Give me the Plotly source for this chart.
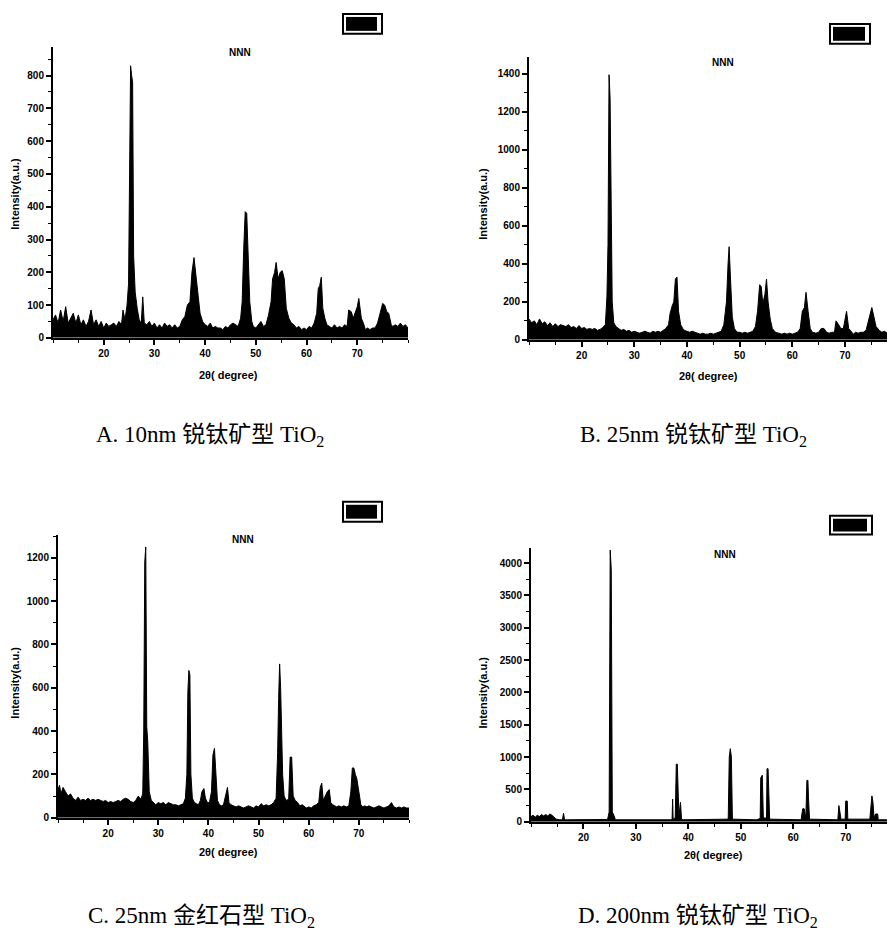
import plotly.graph_objects as go

# ---------------- data ----------------
two_theta_a = [10, 10.5, 11, 11.5, 12, 12.5, 13, 13.5, 14, 14.5, 15, 15.5, 16, 16.5, 17, 17.5, 18, 18.5, 19, 19.5,
               20, 20.5, 21, 21.5, 22, 22.5, 23, 23.5, 23.8, 24.2, 24.6, 24.9, 25.1, 25.3, 25.5, 25.7, 25.9, 26.2, 26.6,
               27.0, 27.4, 27.7, 28.0, 28.5, 29, 29.5, 30, 30.5, 31, 31.5, 32, 32.5, 33, 33.5, 34, 34.5, 35, 35.5, 36,
               36.5, 37, 37.4, 37.8, 38.1, 38.5, 39, 39.5, 40, 40.5, 41, 41.5, 42, 42.5, 43, 43.5, 44, 44.5, 45, 45.5,
               46, 46.5, 47, 47.3, 47.6, 47.9, 48.2, 48.5, 48.8, 49.2, 49.5, 50, 50.5, 51, 51.5, 52, 52.5, 53, 53.3,
               53.7, 54.0, 54.4, 54.8, 55.2, 55.6, 56, 56.5, 57, 57.5, 58, 58.5, 59, 59.5, 60, 60.5, 61, 61.5, 62,
               62.3, 62.6, 62.9, 63.2, 63.6, 64, 64.5, 65, 65.5, 66, 66.5, 67, 67.5, 68, 68.3, 68.8, 69.2, 69.6, 70.0,
               70.3, 70.8, 71.2, 71.6, 72, 72.5, 73, 73.5, 74, 74.5, 75, 75.4, 75.8, 76.2, 76.7, 77, 77.5, 78, 78.5,
               79, 79.5, 80]
intensity_a = [55, 70, 45, 85, 50, 95, 45, 60, 75, 45, 70, 40, 55, 35, 50, 85, 40, 55, 35, 50,
               30, 45, 35, 40, 45, 35, 50, 40, 85, 55, 100, 165, 590, 830, 800, 780, 250, 140, 90,
               55, 45, 125, 45, 40, 50, 35, 45, 30, 40, 30, 45, 35, 40, 30, 40, 30, 35, 55, 65,
               100, 110, 200, 245, 200, 130, 75, 50, 40, 35, 45, 30, 35, 30, 30, 25, 35, 30, 40, 45,
               40, 35, 60, 110, 270, 385, 380, 260, 110, 50, 35, 30, 40, 50, 35, 40, 70, 110, 180,
               200, 230, 180, 200, 205, 180, 90, 60, 45, 40, 30, 35, 25, 30, 25, 35, 30, 45, 75,
               150, 160, 185, 90, 60, 40, 35, 30, 40, 30, 35, 30, 40, 35, 85, 80, 60, 80, 95,
               120, 60, 45, 25, 30, 25, 30, 30, 45, 75, 105, 100, 80, 75, 40, 35, 40, 35, 45,
               35, 40, 30]

two_theta_b = [10, 10.5, 11, 11.5, 12, 12.5, 13, 13.5, 14, 14.5, 15, 15.5, 16, 16.5, 17, 17.5, 18, 18.5, 19, 19.5,
               20, 20.5, 21, 21.5, 22, 22.5, 23, 23.5, 24, 24.5, 24.8, 25.0, 25.2, 25.4, 25.6, 25.8, 26.1, 26.5, 27,
               27.5, 28, 28.5, 29, 29.5, 30, 30.5, 31, 31.5, 32, 32.5, 33, 33.5, 34, 34.5, 35, 35.5, 36, 36.5, 36.8,
               37.2, 37.5, 37.8, 38.1, 38.4, 38.8, 39.2, 39.5, 40, 40.5, 41, 41.5, 42, 42.5, 43, 43.5, 44, 44.5, 45,
               45.5, 46, 46.5, 47, 47.5, 47.8, 48.0, 48.3, 48.6, 49, 49.5, 50, 50.5, 51, 51.5, 52, 52.5, 53, 53.4,
               53.8, 54.1, 54.4, 54.8, 55.1, 55.4, 55.8, 56.2, 56.8, 57.5, 58, 58.5, 59, 59.5, 60, 60.5, 61, 61.5,
               61.9, 62.3, 62.6, 63.0, 63.4, 63.8, 64.5, 65, 65.5, 66, 66.5, 67, 67.5, 68, 68.3, 68.8, 69.2, 69.7,
               70.1, 70.3, 70.7, 71.2, 71.6, 72, 72.5, 73, 73.5, 74, 74.4, 74.8, 75.1, 75.5, 75.9, 76.5, 77, 77.5,
               78, 78.5, 79, 79.5, 80]
intensity_b = [110, 90, 100, 80, 110, 85, 95, 75, 90, 70, 85, 70, 80, 75, 70, 80, 65, 70, 60, 75,
               60, 65, 55, 60, 55, 60, 50, 55, 65, 80, 230, 500, 1395, 1270, 450, 200, 90, 70, 60,
               50, 55, 45, 50, 40, 45, 40, 35, 40, 45, 40, 35, 45, 40, 45, 40, 50, 60, 80, 140,
               180, 200, 320, 330, 150, 80, 60, 50, 45, 40, 45, 40, 35, 30, 35, 30, 30, 35, 30,
               35, 40, 45, 80, 200, 400, 490, 300, 120, 60, 40, 40, 35, 40, 35, 40, 45, 70, 150,
               290, 280, 190, 240, 320, 200, 110, 60, 40, 35, 30, 35, 30, 35, 30, 35, 40, 60,
               150, 170, 250, 150, 60, 40, 35, 40, 60, 60, 40, 35, 40, 40, 100, 80, 60, 60,
               130, 150, 60, 40, 30, 40, 35, 40, 40, 50, 90, 130, 170, 120, 70, 50, 40, 45,
               35, 40, 35, 40, 35]

two_theta_c = [10, 10.3, 10.6, 11, 11.5, 12, 12.5, 13, 13.5, 14, 14.5, 15, 15.5, 16, 16.5, 17, 17.5, 18, 18.5, 19,
               19.5, 20, 20.5, 21, 21.5, 22, 22.5, 23, 23.5, 24, 24.5, 25, 25.5, 26, 26.5, 26.9, 27.1, 27.3, 27.5,
               27.7, 27.9, 28.2, 28.6, 29, 29.5, 30, 30.5, 31, 31.5, 32, 32.5, 33, 33.5, 34, 34.5, 35, 35.4, 35.7,
               35.9, 36.1, 36.3, 36.5, 36.8, 37.2, 37.6, 38, 38.4, 38.7, 39.1, 39.4, 39.8, 40.2, 40.6, 40.9, 41.2,
               41.5, 41.8, 42.2, 42.6, 43, 43.4, 43.8, 44.1, 44.5, 45, 45.5, 46, 46.5, 47, 47.5, 48, 48.5, 49, 49.5,
               50, 50.5, 51, 51.5, 52, 52.5, 53, 53.5, 53.8, 54.0, 54.2, 54.4, 54.6, 54.8, 55.1, 55.5, 56, 56.3,
               56.6, 56.9, 57.3, 57.8, 58.2, 58.7, 59, 59.5, 60, 60.5, 61, 61.5, 62, 62.3, 62.6, 62.9, 63.3, 63.7,
               64.1, 64.4, 64.8, 65.2, 65.6, 66, 66.5, 67, 67.5, 68, 68.4, 68.7, 69.0, 69.3, 69.6, 70.0, 70.4, 70.8,
               71.2, 71.6, 72, 72.5, 73, 73.5, 74, 74.5, 75, 75.5, 76, 76.5, 77, 77.5, 78, 78.5, 79, 79.5, 80]
intensity_c = [130, 150, 110, 140, 120, 100, 110, 90, 80, 95, 80, 85, 80, 90, 80, 85, 80, 85, 80, 75,
               80, 70, 75, 70, 75, 80, 75, 85, 90, 85, 75, 70, 80, 100, 85, 110, 400, 1180, 1250,
               420, 350, 120, 80, 70, 60, 70, 65, 70, 60, 70, 65, 60, 60, 55, 60, 65, 90, 200,
               580, 680, 660, 200, 90, 70, 65, 60, 80, 120, 135, 90, 70, 70, 120, 290, 320,
               200, 80, 60, 55, 60, 100, 140, 70, 60, 55, 50, 55, 50, 45, 50, 55, 50, 45, 55,
               50, 65, 55, 60, 55, 60, 70, 90, 300, 550, 710, 600, 450, 200, 100, 80, 85, 280,
               280, 100, 80, 70, 55, 60, 55, 45, 50, 45, 55, 60, 70, 140, 160, 80, 100, 120,
               130, 70, 60, 55, 50, 55, 50, 55, 50, 55, 120, 230, 230, 200, 180, 120, 60, 50,
               55, 50, 55, 50, 45, 50, 55, 50, 45, 50, 55, 70, 50, 45, 50, 45, 50, 45, 45]

two_theta_d = [10, 10.4, 10.8, 11.2, 11.6, 12, 12.4, 12.8, 13.2, 13.6, 14, 14.4, 14.8, 15.5, 16, 16.2, 16.4, 17, 20,
               24.6, 24.9, 25.1, 25.3, 25.5, 25.8, 26.1, 30, 35, 36.9, 37.0, 37.1, 37.5, 37.7, 37.9, 38.0, 38.2,
               38.5, 38.7, 39, 44, 47.6, 47.8, 48.0, 48.2, 48.4, 53, 53.7, 53.8, 54.1, 54.3, 54.6, 54.9, 55.0, 55.2,
               55.3, 55.5, 61.5, 61.8, 62.1, 62.4, 62.6, 62.8, 62.9, 63.1, 68.5, 68.7, 68.9, 69.1, 69.9, 70.0, 70.3,
               70.4, 74.6, 74.8, 75.0, 75.2, 75.4, 75.7, 76.1, 76.2, 80]
intensity_d = [80, 100, 70, 100, 80, 110, 90, 110, 90, 120, 100, 70, 40, 30, 30, 130, 30, 30, 30,
               35, 150, 4200, 3900, 150, 100, 30, 30, 30, 30, 350, 40, 60, 890, 890, 700, 80,
               300, 40, 30, 30, 40, 1000, 1130, 1000, 40, 30, 50, 680, 720, 50, 60, 50, 820, 820,
               450, 40, 30, 200, 200, 50, 640, 640, 380, 40, 30, 250, 150, 40, 40, 320, 320,
               40, 40, 200, 400, 300, 60, 120, 120, 30, 30]

x_tick_labels = [20, 30, 40, 50, 60, 70]
y_title = "Intensity(a.u.)"
x_title = "2θ( degree)"
sample_tag = "NNN"
captions = ["A. 10nm 锐钛矿型 TiO<sub>2</sub>", "B. 25nm 锐钛矿型 TiO<sub>2</sub>",
            "C. 25nm 金红石型 TiO<sub>2</sub>", "D. 200nm 锐钛矿型 TiO<sub>2</sub>"]

# ---------------- layout helpers ----------------
# the page body has an 8px margin, so the figure is drawn 8px in from the window corner
OFF = 8
W, H = 895 - OFF, 940 - OFF


def px(x):
    return (x - OFF) / W


def py(y):
    return 1 - (y - OFF) / H


panels = [
    dict(x=two_theta_a, y=intensity_a, left=53, right=408, bottom=340, top=47, xr=[10, 80], yr=[0, 888],
         dt=100, ytitle=(15, 195), xtitle=(228, 377), tag=(240, 53), box=(343, 14, 382, 34), cap=(210, 439)),
    dict(x=two_theta_b, y=intensity_b, left=529, right=895, bottom=342, top=57, xr=[10, 79.5], yr=[0, 1490],
         dt=200, ytitle=(483, 205), xtitle=(708, 378), tag=(723, 63), box=(830, 24, 870, 44), cap=(693, 439)),
    dict(x=two_theta_c, y=intensity_c, left=58, right=409, bottom=823, top=538, xr=[10, 80], yr=[0, 1307],
         dt=200, ytitle=(15, 687), xtitle=(228, 857), tag=(243, 543), box=(343, 505, 382, 525), cap=(201, 923)),
    dict(x=two_theta_d, y=intensity_d, left=531, right=895, bottom=827, top=551, xr=[10, 79.4], yr=[0, 4241],
         dt=500, ytitle=(483, 697), xtitle=(713, 860), tag=(725, 558), box=(830, 519, 872, 538), cap=(698, 923)),
]

fig = go.Figure()
layout = dict(width=W, height=H, margin=dict(l=0, r=0, t=0, b=0), paper_bgcolor="white",
              plot_bgcolor="white", showlegend=False, annotations=[], shapes=[])

tick_font = dict(family="Liberation Sans, Arial", size=10, color="black", weight=700)
lab_font = dict(family="Liberation Sans, Arial", size=11, color="black", weight=700)
cap_font = dict(family="Liberation Serif, Times New Roman, Noto Sans CJK SC", size=23, color="black")

for i, p in enumerate(panels, start=1):
    sfx = "" if i == 1 else str(i)
    fig.add_trace(go.Scatter(x=p["x"], y=p["y"], mode="lines", line=dict(color="black", width=1),
                             fill="tozeroy", fillcolor="black", xaxis="x" + sfx, yaxis="y" + sfx,
                             hoverinfo="skip"))
    layout["xaxis" + sfx] = dict(domain=[px(p["left"]), min(1.0, px(p["right"]))], range=p["xr"],
                                 anchor="y" + sfx,
                                 showline=True, linecolor="black", linewidth=2, mirror=False,
                                 showgrid=False, zeroline=False, ticks="outside", ticklen=5, tickwidth=2,
                                 tickcolor="black", tickvals=x_tick_labels, tickfont=tick_font,
                                 minor=dict(ticks="outside", ticklen=3, tickwidth=1, dtick=5, tick0=0,
                                            tickcolor="black"))
    layout["yaxis" + sfx] = dict(domain=[py(p["bottom"]), py(p["top"])], range=p["yr"], anchor="x" + sfx,
                                 showline=True, linecolor="black", linewidth=2, mirror=False,
                                 showgrid=False, zeroline=False, ticks="outside", ticklen=5, tickwidth=2,
                                 tickcolor="black", dtick=p["dt"], tick0=0, tickfont=tick_font,
                                 minor=dict(ticks="outside", ticklen=3, tickwidth=1, dtick=p["dt"] / 2,
                                            tick0=0, tickcolor="black"))
    layout["annotations"] += [
        dict(text=y_title, x=px(p["ytitle"][0]), y=py(p["ytitle"][1]), xref="paper", yref="paper",
             textangle=-90, showarrow=False, font=lab_font, xanchor="center", yanchor="middle"),
        dict(text=x_title, x=px(p["xtitle"][0]), y=py(p["xtitle"][1]), xref="paper", yref="paper",
             showarrow=False, font=lab_font, xanchor="center", yanchor="middle"),
        dict(text=sample_tag, x=px(p["tag"][0]), y=py(p["tag"][1]), xref="paper", yref="paper",
             showarrow=False, font=dict(family="Liberation Sans", size=10, color="black", weight=700),
             xanchor="center", yanchor="middle"),
        dict(text=captions[i - 1], x=px(p["cap"][0]), y=py(p["cap"][1]), xref="paper", yref="paper",
             showarrow=False, font=cap_font, xanchor="center", yanchor="middle"),
    ]
    x0, y0, x1, y1 = p["box"]
    layout["shapes"] += [
        dict(type="rect", xref="paper", yref="paper", x0=px(x0), x1=px(x1), y0=py(y1), y1=py(y0),
             line=dict(color="black", width=2), fillcolor="white"),
        dict(type="rect", xref="paper", yref="paper", x0=px(x0 + 3), x1=px(x1 - 5), y0=py(y1 - 3),
             y1=py(y0 + 3), line=dict(width=0), fillcolor="black"),
    ]

fig.update_layout(**layout)
fig.write_html("out.html")
